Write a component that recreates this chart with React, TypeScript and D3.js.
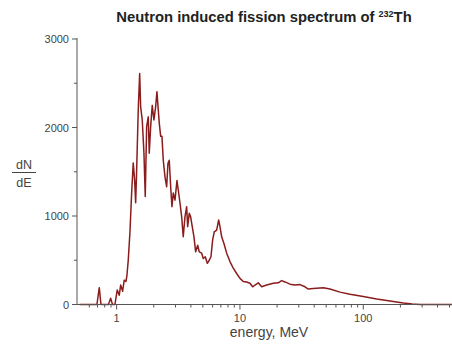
import React from "react";
import * as d3 from "d3";

const energies = [
  0.5, 0.667, 0.692, 0.723, 0.746, 0.858, 0.894, 0.925, 0.969, 1.011, 1.05, 1.078, 1.118, 1.152, 1.19, 1.212,
  1.242, 1.282, 1.323, 1.363, 1.4, 1.426, 1.453, 1.497, 1.537, 1.565, 1.613, 1.665, 1.706, 1.751, 1.804,
  1.838, 1.887, 1.944, 2.006, 2.072, 2.122, 2.175, 2.216, 2.275, 2.33, 2.388, 2.465, 2.544, 2.607, 2.671,
  2.742, 2.809, 2.878, 2.971, 3.084, 3.184, 3.262, 3.367, 3.467, 3.581, 3.696, 3.765, 3.879, 3.983, 4.103,
  4.236, 4.372, 4.539, 4.677, 4.891, 5.04, 5.232, 5.431, 5.636, 5.818, 6.005, 6.188, 6.471, 6.718, 6.883,
  7.105, 7.413, 7.8, 8.298, 8.826, 9.402, 10.0, 10.64, 11.33, 12.05, 12.68, 13.23, 14.08, 15.0, 16.46,
  18.62, 20.45, 21.79, 23.17, 25.44, 27.93, 30.67, 33.65, 35.8, 39.3, 47.4, 53.7, 64.7, 78.0, 100, 128.5,
  164.7, 211, 250, 288, 524,
];
const counts = [
  0, 0, 0, 190, 0, 0, 70, 0, 0, 165, 105, 220, 150, 275, 260, 330,
  500, 820, 1260, 1600, 1400, 1150, 1520, 2200, 2610, 2235, 2085, 1710, 1220, 2010, 2120,
  1710, 2010, 2250, 2085, 2235, 2405, 2200, 2050, 1900, 1900, 1630, 1445, 1330, 1595, 1630,
  1330, 1105, 1260, 1180, 1400, 1260, 1150, 990, 765, 990, 1105, 880, 1030, 990, 880,
  765, 595, 670, 595, 580, 520, 540, 465, 500, 540, 730, 820, 840, 955, 880,
  765, 690, 580, 485, 410, 350, 295, 260, 255, 240, 200, 220, 245, 200, 220,
  240, 245, 270, 255, 230, 220, 225, 200, 175, 180, 190, 175, 140, 115, 90, 62,
  40, 18, 7, 0, 0,
];
const yMajorTicks = [0, 1000, 2000, 3000];
const yMinorTicks = [500, 1500, 2500];
const xMajorTicks = [1, 10, 100];
const xMinorTicks = [
  0.6, 0.7, 0.8, 0.9, 2, 3, 4, 5, 6, 7, 8, 9, 20, 30, 40, 50, 60, 70, 80, 90, 200, 300, 400, 500,
];
const titleMain = "Neutron induced fission spectrum of ";
const titleSup = "232";
const titleEnd = "Th";
const xTitle = "energy, MeV";

const FONT = "'Liberation Sans', Arial, sans-serif";

export default function App() {
  const W = 452;
  const H = 347;
  const left = 77;
  const right = 452;
  const top = 39;
  const bottom = 304.5;

  const x = d3.scaleLog().domain([0.477, 524]).range([left, right]);
  const y = d3.scaleLinear().domain([0, 3000]).range([bottom, top]);

  const data = energies.map((e, i) => [e, counts[i]] as [number, number]);
  const line = d3
    .line<[number, number]>()
    .x((d) => x(d[0]))
    .y((d) => y(d[1]));

  const axisColor = "#555";
  const textColor = "#444";

  return (
    <svg
      width={W}
      height={H}
      style={{ position: "absolute", left: 0, top: 0, background: "#fff" }}
      fontFamily={FONT}
    >
      <rect x={0} y={0} width={W} height={H} fill="#fff" />
      {/* title */}
      <text x={264} y={22} textAnchor="middle" fontSize={14.8} fontWeight="bold" fill="#222">
        {titleMain}
        <tspan fontSize={9} dy={-5.5}>
          {titleSup}
        </tspan>
        <tspan dy={5.5}>{titleEnd}</tspan>
      </text>

      {/* curve */}
      <path d={line(data) || ""} fill="none" stroke="#8b1c1c" strokeWidth={1.5} strokeLinejoin="round" />

      {/* y axis */}
      <line x1={left} x2={left} y1={y(3000) - 1} y2={bottom} stroke={axisColor} strokeWidth={1} />
      {yMajorTicks.map((t) => (
        <g key={"ym" + t}>
          <line x1={left - 5} x2={left} y1={y(t)} y2={y(t)} stroke={axisColor} />
          <text x={left - 8} y={y(t) + 4} textAnchor="end" fontSize={11} fill={textColor}>
            {t}
          </text>
        </g>
      ))}
      {yMinorTicks.map((t) => (
        <line key={"yn" + t} x1={left - 3} x2={left} y1={y(t)} y2={y(t)} stroke={axisColor} />
      ))}

      {/* x axis */}
      <line x1={left} x2={right} y1={bottom} y2={bottom} stroke={axisColor} strokeWidth={1} />
      {xMajorTicks.map((t) => (
        <g key={"xm" + t}>
          <line x1={x(t)} x2={x(t)} y1={bottom} y2={bottom + 5} stroke={axisColor} />
          <text x={x(t)} y={bottom + 17} textAnchor="middle" fontSize={11} fill={textColor}>
            {t}
          </text>
        </g>
      ))}
      {xMinorTicks.map((t) => (
        <line key={"xn" + t} x1={x(t)} x2={x(t)} y1={bottom} y2={bottom + 3} stroke={axisColor} />
      ))}

      {/* axis titles */}
      <text x={269} y={337} textAnchor="middle" fontSize={14} fill={textColor}>
        {xTitle}
      </text>
      <text x={24} y={169} textAnchor="middle" fontSize={12.5} fill={textColor}>
        dN
      </text>
      <line x1={12} x2={36} y1={172.5} y2={172.5} stroke={textColor} strokeWidth={1} />
      <text x={24} y={186.5} textAnchor="middle" fontSize={12.5} fill={textColor}>
        dE
      </text>
    </svg>
  );
}
